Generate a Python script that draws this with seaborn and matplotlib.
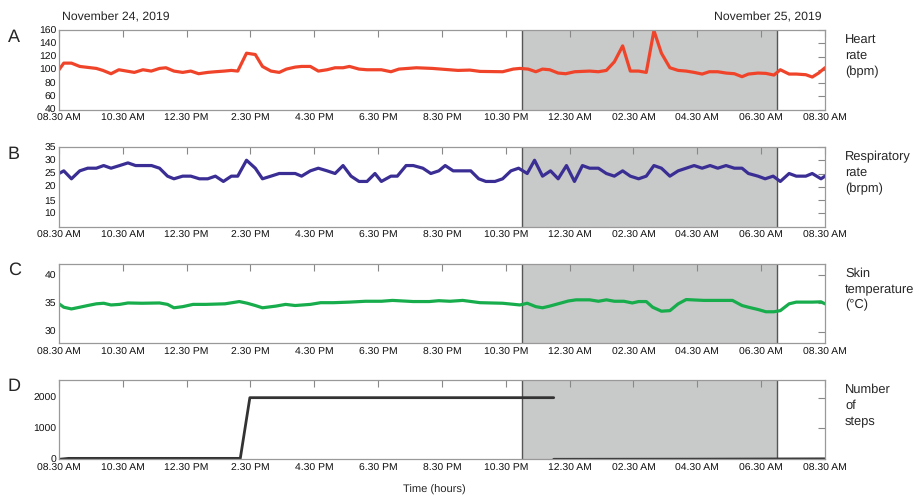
import numpy as np
import pandas as pd
import matplotlib
matplotlib.use('Agg')
import matplotlib.pyplot as plt
import seaborn as sns

# hours since 08.30 AM on November 24, 2019
hr_hours = [0, 0.15, 0.39, 0.65, 1.17, 1.375, 1.63, 1.875, 2.36, 2.63, 2.89, 3.15, 3.35, 3.6,
            3.875, 4.13, 4.375, 4.66, 4.9, 5.18, 5.4, 5.6, 5.875, 6.15, 6.375, 6.64, 6.9, 7.125,
            7.4, 7.6, 7.875, 8.125, 8.4, 8.65, 8.9, 9.1, 9.4, 9.65, 9.9, 10.1, 10.4, 10.65, 11.2,
            11.7, 12.5, 12.875, 13.19, 13.9, 14.23, 14.44, 14.7, 14.94, 15.15, 15.375, 15.64,
            15.875, 16.16, 16.625, 16.9, 17.15, 17.4, 17.66, 17.9, 18.16, 18.4, 18.64, 18.875,
            19.14, 19.4, 19.65, 19.9, 20.15, 20.375, 20.64, 20.9, 21.16, 21.4, 21.6, 21.9, 22.15,
            22.4, 22.6, 22.875, 23.1, 23.4, 23.6, 23.8, 24]
hr_bpm = [100, 110, 110, 105, 102, 99, 94, 100, 96, 100, 98, 102, 103, 98,
          96, 98, 94, 96, 97, 98, 99, 98, 125, 123, 105, 98, 96, 101,
          104, 105, 105, 98, 100, 103, 103, 105, 101, 100, 100, 100, 97, 101, 103,
          102, 99, 99.5, 97.5, 97, 101, 102, 101, 97, 101, 100, 95,
          94, 97, 98, 97, 99, 112, 136, 98, 98, 96, 159, 125,
          103, 99, 98, 96, 93.5, 97, 97, 95, 94, 89.5, 93.5, 95, 94.5,
          92, 100, 93.5, 93.5, 92.5, 89, 95, 103]

rr_hours = [0, 0.15, 0.39, 0.65, 0.9, 1.17, 1.4, 1.63, 1.9, 2.16, 2.4, 2.9, 3.15, 3.4, 3.6,
            3.875, 4.13, 4.4, 4.66, 4.9, 5.15, 5.4, 5.6, 5.875, 6.15, 6.375, 6.64, 6.9, 7.4,
            7.6, 7.875, 8.125, 8.4, 8.65, 8.9, 9.15, 9.4, 9.65, 9.9, 10.1, 10.4, 10.6, 10.875,
            11.1, 11.4, 11.65, 11.9, 12.1, 12.35, 12.9, 13.15, 13.375, 13.66, 13.9, 14.16, 14.4,
            14.67, 14.9, 15.15, 15.4, 15.64, 15.9, 16.15, 16.4, 16.625, 16.9, 17.15, 17.4, 17.66,
            17.9, 18.16, 18.4, 18.64, 18.875, 19.14, 19.4, 19.65, 19.9, 20.15, 20.4, 20.64, 20.9,
            21.16, 21.4, 21.6, 21.9, 22.125, 22.375, 22.6, 22.875, 23.1, 23.4, 23.6, 23.875, 24]
rr_brpm = [25, 26, 23, 26, 27, 27, 28, 27, 28, 29, 28, 28, 27, 24, 23,
           24, 24, 23, 23, 24, 22, 24, 24, 30, 27, 23, 24, 25, 25,
           24, 26, 27, 26, 25, 28, 24, 22, 22, 25, 22, 24, 24, 28,
           28, 27, 25, 26, 28, 26, 26, 23, 22, 22, 23, 26, 27,
           25, 30, 24, 26, 23, 28, 22, 28, 27, 27, 25, 24, 26,
           24, 23, 24, 28, 27, 24, 26, 27, 28, 27, 28, 27, 28,
           27, 27, 25, 24, 23, 24, 22, 25, 24, 24, 25, 23, 24]

skin_hours = [0, 0.15, 0.39, 0.65, 0.9, 1.17, 1.4, 1.63, 1.9, 2.16, 2.6, 3.15, 3.4, 3.6, 3.875,
              4.2, 4.6, 5.2, 5.65, 5.9, 6.15, 6.375, 6.8, 7.1, 7.4, 7.875, 8.2, 8.6, 9.1, 9.6,
              10.1, 10.45, 11.1, 11.6, 11.9, 12.25, 12.65, 13.19, 13.9, 14.44, 14.67, 14.94,
              15.15, 15.375, 15.7, 15.96, 16.2, 16.625, 16.9, 17.15, 17.4, 17.7, 17.96, 18.16,
              18.4, 18.6, 18.875, 19.14, 19.4, 19.65, 20.2, 21.1, 21.4, 21.6, 21.9, 22.15, 22.4,
              22.6, 22.875, 23.1, 23.6, 23.875, 24]
skin_temp = [34.9, 34.3, 34.0, 34.3, 34.6, 34.9, 35.0, 34.7, 34.8, 35.05, 35.0, 35.05, 34.8, 34.2, 34.4,
             34.8, 34.8, 34.9, 35.3, 35.0, 34.6, 34.2, 34.5, 34.8, 34.6, 34.8, 35.1, 35.1, 35.2, 35.35,
             35.35, 35.5, 35.3, 35.3, 35.45, 35.35, 35.5, 35.1, 35.0, 34.7, 35.0, 34.4,
             34.2, 34.5, 35.0, 35.4, 35.6, 35.6, 35.35, 35.6, 35.35, 35.35, 35.05, 35.3,
             35.3, 34.3, 33.6, 33.7, 34.9, 35.65, 35.5, 35.5, 34.6, 34.3, 33.9, 33.5, 33.5,
             33.7, 34.9, 35.2, 35.2, 35.25, 34.9]

# two separate stretches of step data (gap after ~midnight)
step_hours = [0, 0.2, 0.3, 5.68, 5.98, 15.5, 15.5, 20.0, 24]
step_count = [0, 20, 30, 30, 2000, 2000, 0, 5, 15]
step_segment = [0, 0, 0, 0, 0, 0, 1, 1, 1]

tick_labels = ['08.30 AM', '10.30 AM', '12.30 PM', '2.30 PM', '4.30 PM', '6.30 PM', '8.30 PM',
               '10.30 PM', '12.30 AM', '02.30 AM', '04.30 AM', '06.30 AM', '08.30 AM']
night_start, night_end = 14.5, 22.5   # 11 PM to 7 AM

sns.set_style('white')
plt.rcParams['font.family'] = ['Liberation Sans', 'DejaVu Sans']
plt.rcParams['text.hinting'] = 'no_hinting'

fig = plt.figure(figsize=(9.19, 4.96), dpi=100)
W, H = 919, 496
left, right = 59, 825
bottoms = [109.5, 226.5, 343, 459.3]
ax_h = 79.5

panels = [
    ('A', pd.DataFrame({'h': hr_hours, 'v': hr_bpm}), '#f0442a', (40, 160), range(40, 161, 20), 'Heart\nrate\n(bpm)'),
    ('B', pd.DataFrame({'h': rr_hours, 'v': rr_brpm}), '#3a2e94', (5, 35), range(10, 36, 5), 'Respiratory\nrate\n(brpm)'),
    ('C', pd.DataFrame({'h': skin_hours, 'v': skin_temp}), '#17ad4c', (28, 42), [30, 35, 40], 'Skin\ntemperature\n(°C)'),
    ('D', pd.DataFrame({'h': step_hours, 'v': step_count, 'seg': step_segment}), '#333333', (0, 2580), [0, 1000, 2000], 'Number\nof\nsteps'),
]

for i, (letter, df, color, ylim, yticks, label) in enumerate(panels):
    b = bottoms[i]
    ax = fig.add_axes([left / W, 1 - b / H, (right - left) / W, ax_h / H])
    # night shading
    ax.axvspan(night_start, night_end, color='#c8c9c9', lw=0, zorder=0)
    for xv in (night_start, night_end):
        ax.axvline(xv, color='#555555', lw=1, zorder=1)
    if letter == 'D':
        sns.lineplot(data=df, x='h', y='v', units='seg', estimator=None, color=color, lw=2, ax=ax)
    else:
        sns.lineplot(data=df, x='h', y='v', color=color, lw=2.3, ax=ax)
    ax.set_xlim(0, 24)
    ax.set_ylim(*ylim)
    ax.set_yticks(list(yticks))
    ax.set_xticks(range(0, 25, 2))
    ax.set_xticklabels(tick_labels)
    ax.set_xlabel('')
    ax.set_ylabel('')
    ax.tick_params(direction='in', length=5, width=0.8, color='#888888', labelsize=7.5,
                   top=True, right=True, pad=3, labelcolor='#111111')
    ax.tick_params(axis='y', pad=2)
    for s in ax.spines.values():
        s.set_color('#999999')
        s.set_linewidth(0.9)
    top_px = b - ax_h
    fig.text(8 / W, 1 - (top_px + 7) / H, letter, fontsize=13, va='center', ha='left')
    fig.text(845 / W, 1 - (top_px + 4) / H, label, fontsize=9.3, va='top', ha='left',
             linespacing=1.4)

fig.text(62 / W, 1 - 17 / H, 'November 24, 2019', fontsize=8.8, va='center', ha='left')
fig.text(822 / W, 1 - 17 / H, 'November 25, 2019', fontsize=8.8, va='center', ha='right')
fig.text(434 / W, 1 - 490 / H, 'Time (hours)', fontsize=8, va='center', ha='center')

fig.savefig('out.png', dpi=100)
